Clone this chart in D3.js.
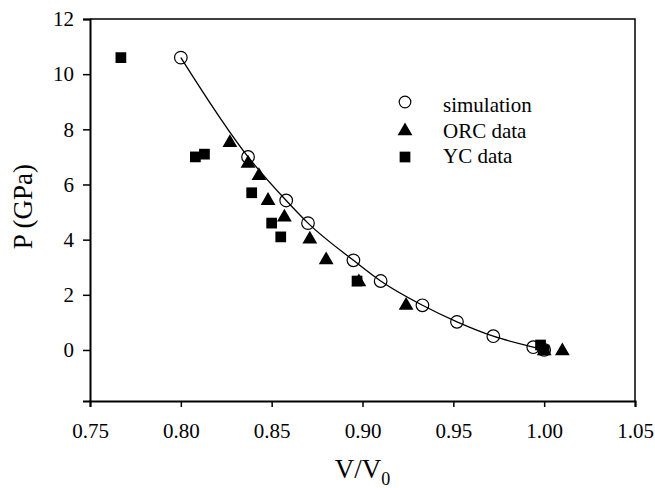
<!DOCTYPE html>
<html>
<head>
<meta charset="utf-8">
<script src="https://cdn.jsdelivr.net/npm/d3@7"></script>
<style>
  body { margin: 0; background: #fff; }
  svg text { font-family: "Liberation Serif", "Times New Roman", serif; fill: #000; }
</style>
</head>
<body>
<div id="chart"></div>
<script>
// simulation (open circles)
const simV = [0.800, 0.837, 0.858, 0.870, 0.895, 0.910, 0.933, 0.952, 0.972, 0.994, 1.000]
const simP = [10.6, 7.0, 5.42, 4.6, 3.25, 2.5, 1.62, 1.02, 0.5, 0.1, 0.0]
// ORC data (triangles)
const orcV = [0.827, 0.837, 0.843, 0.848, 0.857, 0.871, 0.880, 0.898, 0.924, 1.000, 1.010]
const orcP = [7.55, 6.8, 6.35, 5.45, 4.85, 4.05, 3.3, 2.5, 1.65, 0.0, 0.0]
// YC data (squares)
const ycV = [0.767, 0.808, 0.813, 0.839, 0.850, 0.855, 0.897, 0.998, 1.000]
const ycP = [10.6, 7.0, 7.1, 5.7, 4.6, 4.1, 2.5, 0.18, 0.0]

const xTicks = [0.75, 0.80, 0.85, 0.90, 0.95, 1.00, 1.05]
const yTicks = [0, 2, 4, 6, 8, 10, 12]
const legendLabels = ['simulation', 'ORC data', 'YC data']

const width = 655, height = 488
const margin = { top: 19, right: 20, bottom: 87, left: 90 }
const serif = '"Liberation Serif", "Times New Roman", serif'

const svg = d3.select('#chart').append('svg')
  .attr('width', width)
  .attr('height', height)

const x = d3.scaleLinear()
  .domain([0.75, 1.05])
  .range([margin.left, width - margin.right])
const y = d3.scaleLinear()
  .domain([-1.85, 12])
  .range([height - margin.bottom, margin.top])

const zip = (a, b) => a.map((v, i) => [v, b[i]])

// frame (top, right)
svg.append('path')
  .attr('d', `M${x(0.75)},${y(12)}H${x(1.05)}V${y(-1.85)}`)
  .attr('fill', 'none')
  .attr('stroke', '#000')
  .attr('stroke-width', 1.5)

// axes
const xAxis = svg.append('g')
  .attr('transform', `translate(0,${y(-1.85)})`)
  .call(d3.axisBottom(x).tickValues(xTicks).tickFormat(d3.format('.2f'))
    .tickSizeOuter(0).tickSize(6).tickPadding(16))
const yAxis = svg.append('g')
  .attr('transform', `translate(${x(0.75)},0)`)
  .call(d3.axisLeft(y).tickValues(yTicks).tickSizeOuter(0).tickSize(7).tickPadding(9))

;[xAxis, yAxis].forEach(g => {
  g.attr('font-family', null).attr('font-size', null)
  g.select('.domain').attr('stroke-width', 2)
  g.selectAll('.tick line').attr('stroke-width', 1.5)
  g.selectAll('text')
    .style('font-family', serif)
    .style('font-size', '21px')
})

// axis titles
const xt = svg.append('text')
  .attr('x', x(0.90))
  .attr('y', 478)
  .attr('text-anchor', 'middle')
  .attr('font-size', 27)
xt.append('tspan').text('V/V')
xt.append('tspan').attr('font-size', 18).attr('dy', 7).text('0')

svg.append('text')
  .attr('transform', `translate(32,${y(5.2)}) rotate(-90)`)
  .attr('text-anchor', 'middle')
  .attr('font-size', 27)
  .text('P (GPa)')

// fitted curve through simulation points
svg.append('path')
  .datum(zip(simV, simP))
  .attr('fill', 'none')
  .attr('stroke', '#000')
  .attr('stroke-width', 1.3)
  .attr('d', d3.line().x(d => x(d[0])).y(d => y(d[1])).curve(d3.curveMonotoneX))

const tri = d3.symbol().type(d3.symbolTriangle).size(95)
const sq = d3.symbol().type(d3.symbolSquare).size(115)

// YC squares
svg.append('g').selectAll('path')
  .data(zip(ycV, ycP))
  .join('path')
  .attr('transform', d => `translate(${x(d[0])},${y(d[1])})`)
  .attr('d', sq)
  .attr('fill', '#000')

// ORC triangles
svg.append('g').selectAll('path')
  .data(zip(orcV, orcP))
  .join('path')
  .attr('transform', d => `translate(${x(d[0])},${y(d[1]) + 1})`)
  .attr('d', tri)
  .attr('fill', '#000')

// simulation circles
svg.append('g').selectAll('circle')
  .data(zip(simV, simP))
  .join('circle')
  .attr('cx', d => x(d[0]))
  .attr('cy', d => y(d[1]))
  .attr('r', 6.3)
  .attr('fill', 'none')
  .attr('stroke', '#000')
  .attr('stroke-width', 1.2)

// legend
const legend = svg.append('g').attr('transform', 'translate(405,0)')
const rows = [102, 130, 157]
legend.append('circle').attr('cx', 0).attr('cy', rows[0]).attr('r', 5.8)
  .attr('fill', 'none').attr('stroke', '#000').attr('stroke-width', 1.2)
legend.append('path').attr('transform', `translate(0,${rows[1] + 1})`).attr('d', tri).attr('fill', '#000')
legend.append('path').attr('transform', `translate(0,${rows[2]})`).attr('d', sq).attr('fill', '#000')
legend.selectAll('text')
  .data(legendLabels)
  .join('text')
  .attr('x', 38)
  .attr('y', (d, i) => [112, 138, 163][i])
  .attr('font-size', 21)
  .text(d => d)
</script>
</body>
</html>
